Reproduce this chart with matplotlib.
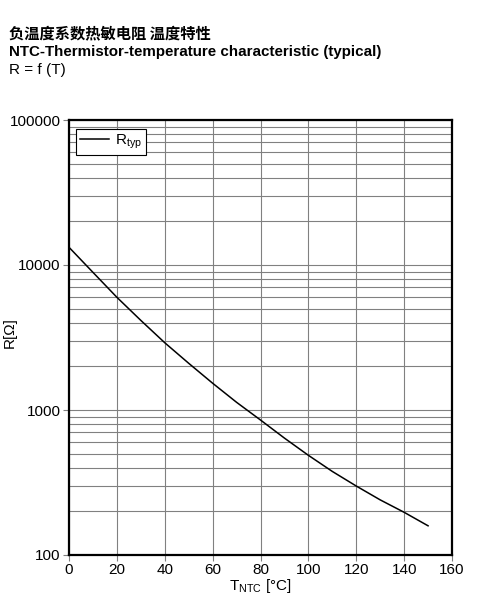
import matplotlib
matplotlib.use('agg')
import matplotlib.pyplot as plt
from matplotlib.ticker import LogLocator, NullFormatter
import numpy as np

# values
temps = [0, 10, 20, 30, 40, 50, 60, 70, 80, 90, 100, 110, 120, 130, 140, 150]
r_typ = [13250, 8900, 5990, 4150, 2910, 2100, 1530, 1130, 853, 640, 487, 377, 299, 240, 197, 159]
x_ticks = [0, 20, 40, 60, 80, 100, 120, 140, 160]
y_ticks = [100, 1000, 10000, 100000]
y_labels = ['100', '1000', '10000', '100000']

plt.rcParams['font.family'] = ['Liberation Sans', 'DejaVu Sans']
plt.rcParams['mathtext.fontset'] = 'custom'
plt.rcParams['mathtext.rm'] = 'Liberation Sans'
plt.rcParams['mathtext.it'] = 'Liberation Sans'

fig = plt.figure(figsize=(4.93, 6.01), dpi=100)
ax = fig.add_axes([69/493, 1-555/601, (452-69)/493, (555-120)/601])

ax.plot(temps, r_typ, color='black', lw=1.1, label=r'R$_{\mathrm{typ}}$')

ax.set_yscale('log')
ax.set_xlim(0, 160)
ax.set_ylim(100, 100000)
ax.set_xticks(x_ticks)
ax.set_yticks(y_ticks)
ax.set_yticklabels(y_labels)
ax.yaxis.set_minor_locator(LogLocator(base=10, subs=np.arange(2, 10)))
ax.yaxis.set_minor_formatter(NullFormatter())

ax.grid(True, which='major', color='#808080', lw=0.8)
ax.grid(True, which='minor', axis='y', color='#808080', lw=0.8)
ax.tick_params(which='major', length=4, width=0.8, color='#808080', labelsize=11, pad=2)
ax.tick_params(which='minor', length=0)
for s in ax.spines.values():
    s.set_linewidth(1.6)
    s.set_color('black')

ax.set_xlabel(r'T$_{\mathrm{NTC}}$ [°C]', fontsize=11, labelpad=0)
ax.set_ylabel('R[Ω]', fontsize=11)
ax.yaxis.set_label_coords((17-69)/383, (555-333)/435)

leg = ax.legend(loc='upper left', fontsize=11, fancybox=False, framealpha=1,
                edgecolor='black', handlelength=1.9, handletextpad=0.4,
                borderpad=0.25, borderaxespad=0,
                bbox_to_anchor=((76-69)/383, (555-129)/435))
leg.get_frame().set_linewidth(0.8)

fig.text(9/493, 1-33/601, '负温度系数热敏电阻 温度特性', fontsize=11,
         family=['Noto Sans CJK SC', 'DejaVu Sans'], weight='bold', va='center')
fig.text(9/493, 1-52/601, 'NTC-Thermistor-temperature characteristic (typical)',
         fontsize=10.9, weight='bold', va='center')
fig.text(9/493, 1-70/601, 'R = f (T)', fontsize=11, va='center')

fig.savefig('out.png', dpi=100)
